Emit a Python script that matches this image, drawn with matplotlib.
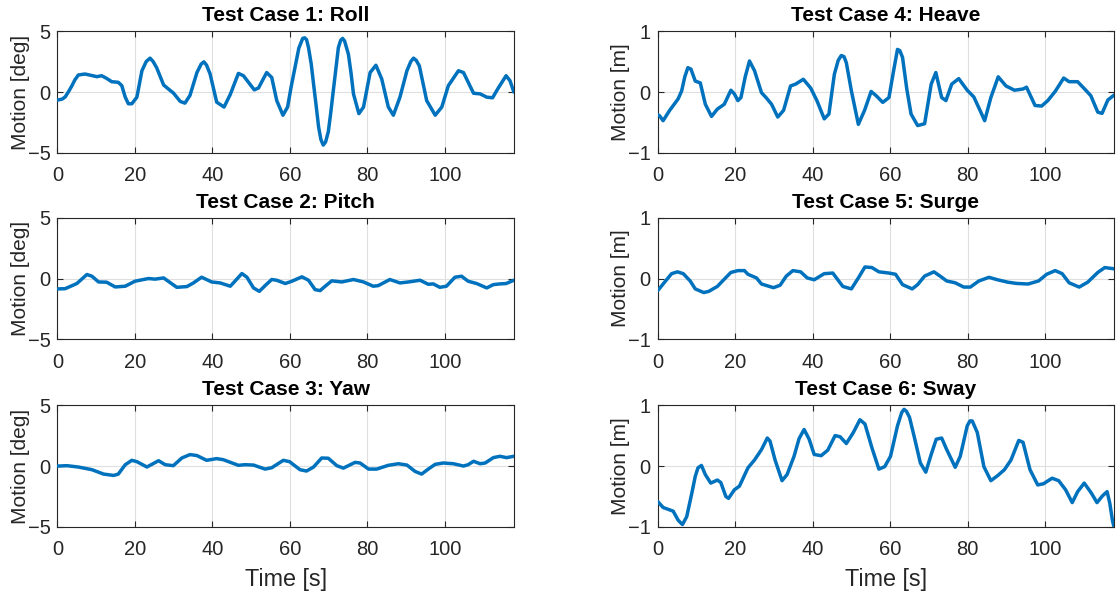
import matplotlib
matplotlib.use("Agg")
import matplotlib.pyplot as plt

# ---------------- data ----------------
roll_t = [0, 0.3, 1.2, 2, 2.9, 3.7, 4.5, 5.4, 7.1, 10.2, 11.4, 12.7, 14, 15.7, 16.6, 17.5, 18.3, 19.2, 20.5, 21.8,
          22.9, 23.9, 24.7, 25.6, 27.4, 28.6, 29.9, 31.7, 32.9, 34.2, 36, 37.1, 37.8, 38.5, 39.4, 41.1, 43, 44.6,
          46.7, 48, 50.8, 51.9, 54, 55.3, 56.6, 58.2, 59.4, 60.3, 61.3, 62.3, 63.3, 63.8, 64.3, 64.8, 65.5, 66.1,
          66.8, 67.4, 68.0, 68.6, 69.2, 69.9, 70.5, 71.2, 71.9, 72.5, 73.1, 73.6, 74.1, 75.1, 75.8, 76.4, 77.8,
          79, 80.7, 82.2, 83.7, 85.4, 86.7, 88.4, 90.2, 91.2, 91.9, 92.6, 93.4, 95.3, 97.5, 99.2, 100.9, 103.5,
          104.8, 107.4, 109.1, 110.8, 112.3, 113.8, 115.8, 116.8, 117.8]
roll_v = [-0.65, -0.64, -0.58, -0.4, 0.05, 0.5, 1.0, 1.4, 1.48, 1.26, 1.34, 1.12, 0.85, 0.8, 0.53, -0.42, -0.96,
          -0.96, -0.42, 1.75, 2.5, 2.78, 2.5, 2.0, 0.58, 0.26, -0.07, -0.77, -0.91, -0.28, 1.6, 2.3, 2.48, 2.2,
          1.48, -0.83, -1.23, -0.2, 1.53, 1.34, 0.18, 0.34, 1.6, 1.2, -0.7, -1.9, -1.23, 0.4, 2.0, 3.6, 4.4,
          4.45, 4.3, 3.64, 2.3, 0.66, -1.2, -2.86, -3.9, -4.35, -4.1, -3.27, -1.8, 0.12, 2.0, 3.64, 4.25, 4.4,
          4.2, 3.1, 1.5, -0.15, -1.77, -1.23, 1.6, 2.2, 1.07, -1.23, -1.9, -0.42, 1.75, 2.5, 2.78, 2.6, 2.15,
          -0.7, -1.9, -1.23, 0.53, 1.75, 1.6, -0.1, -0.15, -0.42, -0.47, 0.34, 1.34, 0.93, 0.0]

pitch_t = [0, 0.3, 2, 5, 7.6, 8.9, 10.6, 12.7, 14.9, 17.5, 20, 22.2, 23.5, 25.2, 27.4, 30.8, 33.4, 35.1, 37.2,
           39.8, 42, 44.6, 45.4, 47.6, 48.9, 50.6, 52.1, 53.6, 55.3, 56.6, 58.8, 60.5, 63.1, 64.8, 66.5, 67.8,
           69.1, 70.8, 73.4, 76.4, 79, 81.5, 82.8, 85.8, 88.4, 90.6, 93.6, 95.7, 97, 98.7, 100.4, 102.6, 104.3,
           106, 108.2, 110.8, 112.5, 114.2, 115.8, 117.8]
pitch_v = [-0.85, -0.85, -0.83, -0.41, 0.33, 0.19, -0.28, -0.3, -0.69, -0.63, -0.22, -0.08, 0.0, -0.05, 0.05,
           -0.72, -0.66, -0.36, 0.11, -0.28, -0.36, -0.63, -0.36, 0.41, 0.11, -0.77, -1.05, -0.58, -0.08, -0.14,
           -0.41, -0.22, 0.14, -0.14, -0.91, -0.99, -0.63, -0.19, -0.28, -0.08, -0.28, -0.63, -0.58, -0.08,
           -0.36, -0.28, -0.14, -0.47, -0.44, -0.72, -0.63, 0.11, 0.19, -0.22, -0.41, -0.77, -0.5, -0.44, -0.41,
           -0.14]

yaw_t = [0, 0.3, 2.4, 5.4, 8.9, 11.9, 14.5, 15.7, 17.5, 19.2, 20.5, 23.1, 26.1, 27.8, 29.9, 32.1, 34.2, 36,
         38.5, 41.1, 42.8, 46.7, 48.4, 50.6, 53.6, 55.3, 58.3, 59.9, 62.6, 64.3, 66.1, 68.2, 69.9, 72.1, 73.8,
         76.8, 78.1, 80.3, 82.4, 85.4, 88, 90.2, 92.3, 94, 95.7, 97.5, 99.6, 102.2, 104.8, 106, 107.4, 109.1,
         110.4, 112.5, 114.2, 115.9, 117.8]
yaw_v = [0.0, 0.0, 0.03, -0.08, -0.3, -0.66, -0.77, -0.66, 0.11, 0.47, 0.36, -0.08, 0.44, 0.11, 0.03, 0.66,
         0.94, 0.86, 0.47, 0.61, 0.52, 0.06, 0.11, 0.08, -0.25, -0.14, 0.47, 0.36, -0.3, -0.41, -0.08, 0.66,
         0.64, 0.03, -0.17, 0.3, 0.25, -0.25, -0.25, 0.06, 0.19, 0.08, -0.44, -0.66, -0.25, 0.14, 0.25, 0.19,
         0.0, 0.11, 0.39, 0.19, 0.25, 0.69, 0.8, 0.69, 0.8]

heave_t = [0, 0.5, 1.4, 3.1, 4.5, 5.3, 6.2, 7.0, 7.8, 8.6, 9.7, 11.0, 12.3, 13.9, 15.4, 17.2, 18.9, 19.8, 20.7,
           21.5, 22.6, 23.7, 25.0, 26.8, 28.1, 29.4, 31.0, 32.5, 34.3, 35.6, 37.6, 39.5, 41.1, 43.0, 44.2, 45.6,
           46.6, 47.4, 48.1, 48.7, 50.0, 51.8, 53.4, 55.1, 56.4, 58.1, 59.7, 60.9, 61.9, 62.5, 63.2, 64.3, 65.4,
           67.1, 68.9, 70.6, 71.8, 73.3, 74.4, 75.9, 77.7, 79.9, 81.6, 83.2, 84.4, 86.0, 87.9, 89.9, 92.1, 94.3,
           95.2, 97.4, 99.1, 100.7, 102.6, 104.8, 106.2, 108.4, 110.5, 111.8, 113.6, 114.7, 116.2, 117.8]
heave_v = [-0.37, -0.39, -0.47, -0.3, -0.18, -0.11, 0.02, 0.25, 0.4, 0.375, 0.18, 0.15, -0.2, -0.4, -0.28, -0.2,
           0.03, -0.03, -0.14, -0.09, 0.25, 0.51, 0.35, -0.01, -0.1, -0.2, -0.41, -0.3, 0.1, 0.13, 0.21, 0.065,
           -0.14, -0.44, -0.36, 0.29, 0.52, 0.6, 0.58, 0.48, 0.02, -0.53, -0.3, 0.01, -0.06, -0.17, -0.09, 0.35,
           0.7, 0.68, 0.57, 0.05, -0.36, -0.55, -0.52, 0.13, 0.32, -0.09, -0.14, 0.13, 0.22, 0.03, -0.08, -0.3,
           -0.47, -0.09, 0.25, 0.1, 0.03, 0.05, 0.08, -0.22, -0.23, -0.14, 0.01, 0.23, 0.17, 0.17, 0.03, -0.06,
           -0.33, -0.35, -0.13, -0.05]

surge_t = [0, 2.3, 3.6, 5.1, 6.6, 8.4, 9.7, 11.9, 13.2, 15.4, 17.2, 18.9, 20.7, 22.4, 23.3, 25.5, 26.8, 29.9,
           31.6, 33.2, 34.9, 36.9, 38.6, 40.4, 43.0, 45.2, 47.8, 50.0, 51.8, 53.5, 55.3, 57.1, 59.7, 61.4, 63.2,
           65.7, 67.1, 68.9, 71.3, 72.9, 74.6, 76.8, 79.0, 80.7, 82.9, 85.5, 87.7, 90.4, 92.6, 95.6, 98.3, 100.4,
           102.6, 104.4, 106.2, 108.8, 111.0, 113.6, 115.4, 117.8]
surge_v = [-0.2, -0.02, 0.08, 0.11, 0.08, -0.04, -0.17, -0.23, -0.21, -0.13, -0.01, 0.1, 0.13, 0.13, 0.07, 0.01,
           -0.09, -0.15, -0.11, 0.04, 0.13, 0.11, 0.01, -0.02, 0.08, 0.09, -0.13, -0.17, 0.01, 0.19, 0.18, 0.11,
           0.09, 0.07, -0.1, -0.17, -0.1, 0.04, 0.11, 0.04, -0.04, -0.07, -0.14, -0.14, -0.04, 0.02, -0.02,
           -0.06, -0.08, -0.09, -0.04, 0.07, 0.13, 0.08, -0.07, -0.14, -0.06, 0.1, 0.18, 0.16]

sway_t = [0, 1.4, 2.7, 4, 5.3, 6.4, 7.5, 8.8, 9.7, 10.4, 11.3, 12.3, 13.7, 15.4, 16.3, 17.6, 18.3, 19.8, 21.1,
          23.3, 25.0, 26.8, 28.3, 29, 30.3, 32.1, 33.4, 35.2, 36.5, 37.8, 39.1, 40.4, 42.2, 43.9, 45.8, 47.1,
          48.7, 50.5, 52.2, 53.5, 55.3, 57.1, 58.6, 60.1, 61.9, 63.0, 63.6, 64.2, 65, 66.3, 67.8, 69.2, 70.6,
          71.9, 73.3, 74.6, 76.8, 78.1, 79.9, 80.6, 81.2, 82.5, 84.2, 86.0, 87.7, 89.5, 91.2, 93.2, 94.3, 96.1,
          98.1, 99.6, 101.8, 103.5, 105.3, 107.0, 108.4, 110.1, 111.9, 113.4, 114.8, 116.0, 116.7, 117.4, 117.8]
sway_v = [-0.58, -0.68, -0.71, -0.74, -0.89, -0.96, -0.83, -0.45, -0.17, -0.03, 0.01, -0.14, -0.28, -0.23, -0.27,
          -0.5, -0.53, -0.39, -0.33, -0.03, 0.1, 0.27, 0.46, 0.41, 0.1, -0.24, -0.14, 0.16, 0.45, 0.6, 0.44, 0.19,
          0.17, 0.26, 0.5, 0.48, 0.37, 0.55, 0.76, 0.69, 0.3, -0.05, -0.01, 0.16, 0.66, 0.88, 0.93, 0.9, 0.8,
          0.46, 0.05, -0.1, 0.19, 0.44, 0.46, 0.27, -0.02, 0.16, 0.66, 0.74, 0.74, 0.55, -0.01, -0.24, -0.16,
          -0.06, 0.1, 0.42, 0.39, -0.06, -0.31, -0.29, -0.2, -0.24, -0.39, -0.6, -0.42, -0.28, -0.44, -0.6,
          -0.49, -0.42, -0.61, -0.9, -1.0]

titles = ["Test Case 1: Roll", "Test Case 2: Pitch", "Test Case 3: Yaw",
          "Test Case 4: Heave", "Test Case 5: Surge", "Test Case 6: Sway"]
ylabels = ["Motion [deg]"] * 3 + ["Motion [m]"] * 3
series = [(roll_t, roll_v), (pitch_t, pitch_v), (yaw_t, yaw_v),
          (heave_t, heave_v), (surge_t, surge_v), (sway_t, sway_v)]
ylims = [5] * 3 + [1] * 3
x_ticks = [0, 20, 40, 60, 80, 100]
x_max = 117.8
xlabel = "Time [s]"

# ---------------- styling ----------------
plt.rcParams['font.family'] = ['Liberation Sans', 'DejaVu Sans']
TXT = '#262626'
LINE = '#0072BD'
GRID = '#dfdfdf'

fig = plt.figure(figsize=(11.2, 5.96), dpi=100)

lefts = [0.0513, 0.5872]
width = 0.4075
bottoms = [0.7433, 0.4304, 0.1158]
height = 0.2045

for i, ((t, v), title, yl, lim) in enumerate(zip(series, titles, ylabels, ylims)):
    col, row = divmod(i, 3)
    ax = fig.add_axes([lefts[col], bottoms[row], width, height])
    ax.plot(t, v, color=LINE, lw=2.5, solid_joinstyle='round', solid_capstyle='round', zorder=3)
    ax.set_xlim(0, x_max)
    ax.set_ylim(-lim, lim)
    ax.set_xticks(x_ticks)
    ax.set_yticks([-lim, 0, lim])
    ax.grid(True, color=GRID, lw=0.8)
    ax.set_axisbelow(True)
    for s in ax.spines.values():
        s.set_color(TXT)
        s.set_linewidth(0.8)
    ax.tick_params(direction='in', length=4, width=0.8, color=TXT, labelcolor=TXT,
                   labelsize=14.5, top=True, right=True)
    ax.tick_params(axis='x', pad=9.5)
    ax.tick_params(axis='y', pad=5)
    ax.set_title(title, fontsize=15, fontweight='bold', color='black', pad=7)
    ax.set_ylabel(yl, fontsize=15, color=TXT, labelpad=-1.5)
    if row == 2:
        ax.set_xlabel(xlabel, fontsize=16.8, color=TXT, labelpad=6)

fig.savefig("out.png", dpi=100)
